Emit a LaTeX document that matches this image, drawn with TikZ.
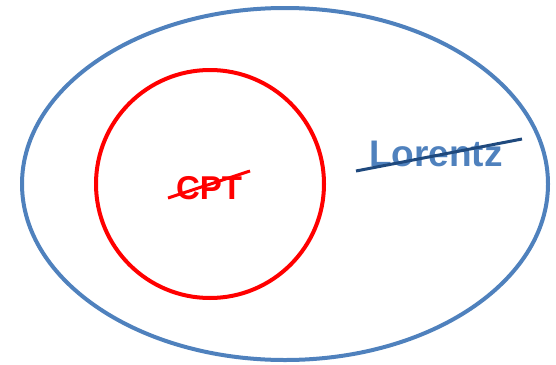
\documentclass[tikz,border=0pt]{standalone}
\usepackage{fontspec}
\setmainfont{Liberation Sans}
\usetikzlibrary{shapes.geometric}
\definecolor{lorblue}{RGB}{79,129,189}
\definecolor{strikeblue}{RGB}{31,73,125}
\definecolor{cptred}{RGB}{255,0,0}

\begin{document}
\begin{tikzpicture}[
  outerset/.style = {draw=lorblue, ellipse, line width=4pt, inner sep=0pt, minimum width=526pt, minimum height=352pt},
  innerset/.style = {draw=cptred, circle, line width=4pt, inner sep=0pt, minimum size=228pt},
  setlabel/.style = {font=\bfseries, anchor=base, inner sep=0pt},
  strike/.style   = {line width=3pt},
  x=1pt, y=-1pt,
]
  \useasboundingbox (0,0) rectangle (556,364);

  \node[outerset] (lorentzset) at (285,184) {};
  \node[innerset] (cptset) at (210,184) {};
  \node[setlabel, text=cptred, font=\fontsize{33}{33}\selectfont\bfseries] (cpt) at (209,199) {CPT};
  \node[setlabel, text=lorblue, font=\fontsize{37}{37}\selectfont\bfseries] (lorentz) at (436,166) {Lorentz};
  % crossed out
  \draw[strike, cptred] (168,198) -- (250,171);
  \draw[strike, strikeblue] (356,171) -- (522,139);
\end{tikzpicture}
\end{document}
